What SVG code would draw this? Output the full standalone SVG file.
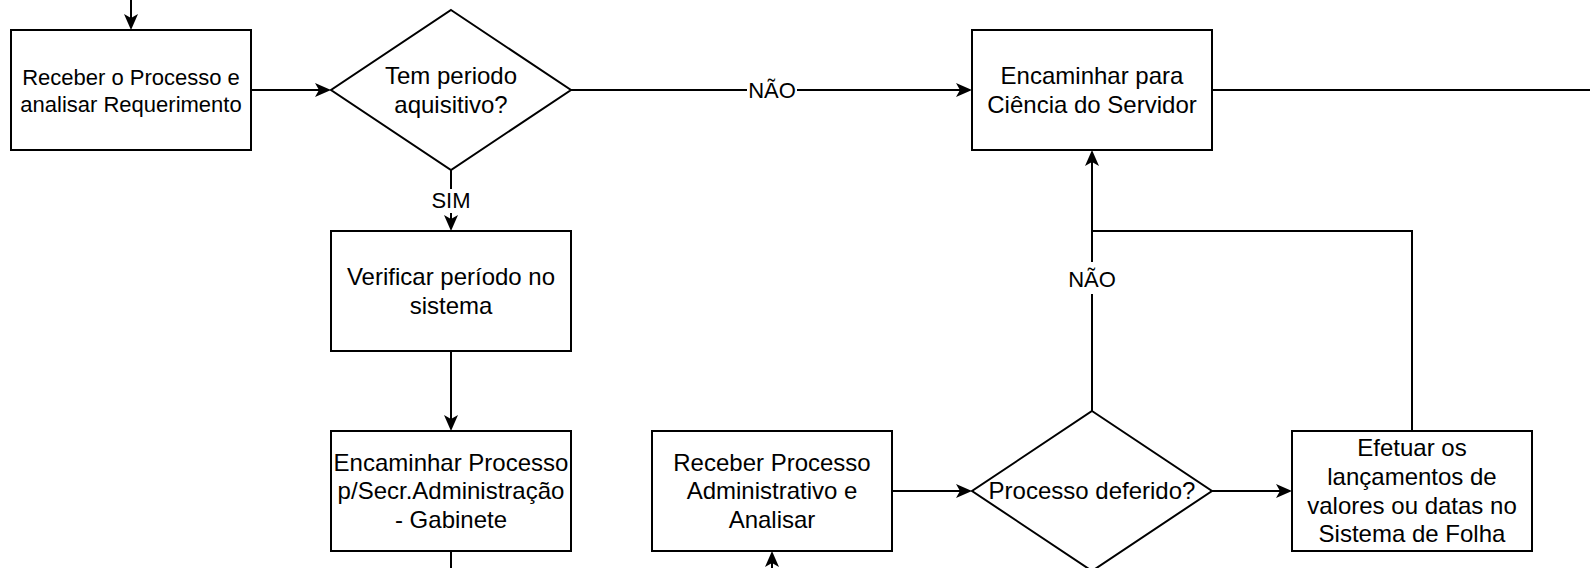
<svg xmlns="http://www.w3.org/2000/svg" width="1590" height="568" viewBox="0 0 1590 568">
<style>
.box{fill:#fff;stroke:#000;stroke-width:2}
.t{font-family:"Liberation Sans",Arial,Helvetica,sans-serif;font-size:24px;fill:#000;text-anchor:middle}
.s{font-size:22px}
.e{fill:none;stroke:#000;stroke-width:2}
.lb{fill:#fff;stroke:none}
</style>
<defs>
<marker id="arr" markerUnits="userSpaceOnUse" markerWidth="18" markerHeight="16" refX="5" refY="7" orient="auto" overflow="visible">
<path d="M0,0 L16,7 L0,14 L4,7 Z" fill="#000"/>
</marker>
</defs>
<rect width="1590" height="568" fill="#fff"/>
<g id="connectors">
<path class="e" d="M131,0 V19" marker-end="url(#arr)"/>
<path class="e" d="M251,90 H320" marker-end="url(#arr)"/>
<path class="e" d="M571,90 H961" marker-end="url(#arr)"/>
<path class="e" d="M1212,90 H1590"/>
<path class="e" d="M451,170 V220" marker-end="url(#arr)"/>
<path class="e" d="M451,351 V420" marker-end="url(#arr)"/>
<path class="e" d="M451,551 V568"/>
<path class="e" d="M772,572 V562" marker-end="url(#arr)"/>
<path class="e" d="M892,491 H961" marker-end="url(#arr)"/>
<path class="e" d="M1092,411 V161" marker-end="url(#arr)"/>
<path class="e" d="M1412,431 V231 H1092"/>
<path class="e" d="M1212,491 H1281" marker-end="url(#arr)"/>
<g id="labels">
<rect class="lb" x="747" y="78" width="50" height="24"/>
<text class="t s" x="772" y="98">NÃO</text>
<rect class="lb" x="429" y="189" width="44" height="24"/>
<text class="t s" x="451" y="208">SIM</text>
<rect class="lb" x="1064" y="262" width="56" height="32"/>
<text class="t s" x="1092" y="287">NÃO</text>
</g>
</g>
<g id="n1">
<rect class="box" x="11" y="30" width="240" height="120"/>
<text class="t s" x="131" y="85">Receber o Processo e</text>
<text class="t s" x="131" y="111.5">analisar Requerimento</text>
</g>
<g id="n2">
<polygon class="box" points="451,10 571,90 451,170 331,90"/>
<text class="t" x="451" y="84">Tem periodo</text>
<text class="t" x="451" y="112.8">aquisitivo?</text>
</g>
<g id="n3">
<rect class="box" x="972" y="30" width="240" height="120"/>
<text class="t" x="1092" y="84">Encaminhar para</text>
<text class="t" x="1092" y="112.8">Ciência do Servidor</text>
</g>
<g id="n4">
<rect class="box" x="331" y="231" width="240" height="120"/>
<text class="t" x="451" y="285">Verificar período no</text>
<text class="t" x="451" y="313.8">sistema</text>
</g>
<g id="n5">
<rect class="box" x="331" y="431" width="240" height="120"/>
<text class="t" x="451" y="470.6">Encaminhar Processo</text>
<text class="t" x="451" y="499.4">p/Secr.Administração</text>
<text class="t" x="451" y="528.2">- Gabinete</text>
</g>
<g id="n6">
<rect class="box" x="652" y="431" width="240" height="120"/>
<text class="t" x="772" y="470.6">Receber Processo</text>
<text class="t" x="772" y="499.4">Administrativo e</text>
<text class="t" x="772" y="528.2">Analisar</text>
</g>
<g id="n7">
<polygon class="box" points="1092,411 1212,491 1092,571 972,491"/>
<text class="t" x="1092" y="499.4">Processo deferido?</text>
</g>
<g id="n8">
<rect class="box" x="1292" y="431" width="240" height="120"/>
<text class="t" x="1412" y="456">Efetuar os</text>
<text class="t" x="1412" y="484.8">lançamentos de</text>
<text class="t" x="1412" y="513.6">valores ou datas no</text>
<text class="t" x="1412" y="542.4">Sistema de Folha</text>
</g>
</svg>
